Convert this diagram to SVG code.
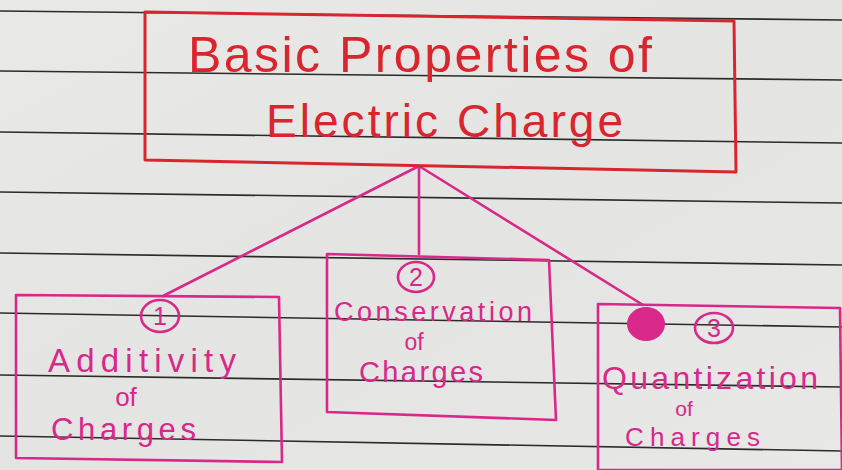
<svg xmlns="http://www.w3.org/2000/svg" width="842" height="470" viewBox="0 0 842 470">
<defs>
<linearGradient id="paper" x1="0" y1="0" x2="1" y2="1">
<stop offset="0" stop-color="#e9e9e7"/>
<stop offset="0.5" stop-color="#e4e4e2"/>
<stop offset="1" stop-color="#e8e8e6"/>
</linearGradient>
</defs>
<style>
.rule{stroke:#2b2b2b;stroke-width:1.6;fill:none}
.red{stroke:#d9262e;stroke-width:3;fill:none;stroke-linejoin:round}
.pink{stroke:#d8288a;stroke-width:2.6;fill:none;stroke-linejoin:round;stroke-linecap:round}
.tr{font-family:"Liberation Sans","DejaVu Sans",sans-serif;fill:#d9262e}
.tp{font-family:"Liberation Sans","DejaVu Sans",sans-serif;fill:#d8288a}
.of{font-family:"Liberation Sans","DejaVu Sans",sans-serif;fill:#d8288a;text-anchor:middle}
.num{font-family:"Liberation Sans",sans-serif;fill:#d8288a;font-size:25px;text-anchor:middle}
</style>
<rect width="842" height="470" fill="url(#paper)"/>
<g id="ruled-lines">
<line class="rule" x1="0" y1="11" x2="842" y2="20"/>
<line class="rule" x1="0" y1="71" x2="842" y2="80"/>
<line class="rule" x1="0" y1="132" x2="842" y2="143"/>
<line class="rule" x1="0" y1="192" x2="842" y2="203"/>
<line class="rule" x1="0" y1="253" x2="842" y2="265"/>
<line class="rule" x1="0" y1="313" x2="842" y2="327"/>
<line class="rule" x1="0" y1="375" x2="842" y2="387"/>
<line class="rule" x1="0" y1="436" x2="842" y2="451"/>
</g>
<g id="connectors">
<line class="pink" x1="419" y1="166" x2="163" y2="296"/>
<line class="pink" x1="419" y1="166" x2="419" y2="254"/>
<line class="pink" x1="419" y1="166" x2="643" y2="305"/>
</g>
<g id="title">
<polygon class="red" points="145,12 734,21 736,172 145,160"/>
<text class="tr" x="188" y="72" font-size="50" textLength="464" lengthAdjust="spacing">Basic Properties of</text>
<text class="tr" x="266" y="137" font-size="46" textLength="357" lengthAdjust="spacing">Electric  Charge</text>
</g>
<g id="node1">
<polygon class="pink" points="16,295 279,297 282,462 16,458"/>
<ellipse class="pink" cx="160" cy="316" rx="19" ry="16"/>
<text class="num" x="160" y="325">1</text>
<text class="tp" x="48" y="372" font-size="33" textLength="188" lengthAdjust="spacing">Additivity</text>
<text class="of" x="126" y="406" font-size="26">of</text>
<text class="tp" x="51" y="440" font-size="31" textLength="145" lengthAdjust="spacing">Charges</text>
</g>
<g id="node2">
<polygon class="pink" points="327,254 549,260 556,420 327,412"/>
<ellipse class="pink" cx="416" cy="277" rx="18" ry="15"/>
<text class="num" x="416" y="286">2</text>
<text class="tp" x="334" y="321" font-size="27" textLength="198" lengthAdjust="spacing">Conservation</text>
<text class="of" x="414" y="350" font-size="23">of</text>
<text class="tp" x="359" y="382" font-size="29" textLength="124" lengthAdjust="spacing">Charges</text>
</g>
<g id="node3">
<polygon class="pink" points="598,304 840,308 842,470 598,470"/>
<ellipse cx="646" cy="324" rx="19" ry="17" fill="#d8288a"/>
<ellipse class="pink" cx="714" cy="328" rx="19" ry="15"/>
<text class="num" x="714" y="337">3</text>
<text class="tp" x="602" y="389" font-size="32" textLength="216" lengthAdjust="spacing">Quantization</text>
<text class="of" x="684" y="416" font-size="21">of</text>
<text class="tp" x="625" y="446" font-size="26" textLength="135" lengthAdjust="spacing">Charges</text>
</g>
</svg>
